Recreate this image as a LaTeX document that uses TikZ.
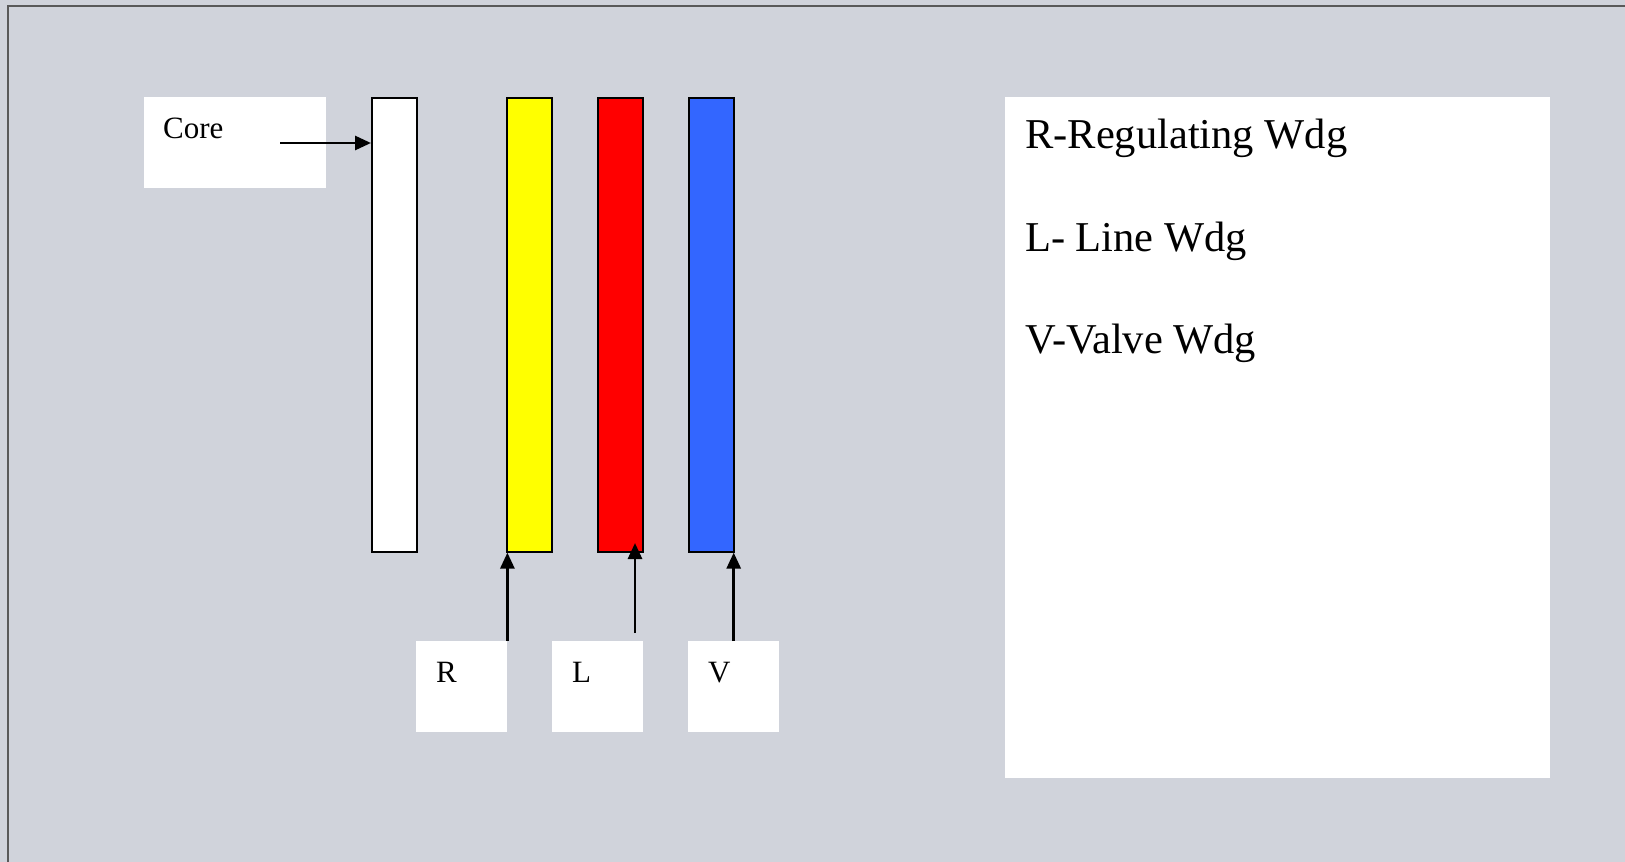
\documentclass[tikz,border=0pt]{standalone}
\usepackage{fontspec}
\setmainfont{Liberation Serif}
\usepackage{xcolor}
\usetikzlibrary{arrows.meta,calc,positioning}
\definecolor{slidegray}{RGB}{208,211,219}
\definecolor{wdgyellow}{RGB}{255,255,0}
\definecolor{wdgred}{RGB}{255,0,0}
\definecolor{wdgblue}{RGB}{51,102,255}

\begin{document}
\begin{tikzpicture}[x=1pt,y=-1pt,>={Triangle[length=16pt,width=14pt]},
    limb/.style={draw,line width=1.6pt,anchor=north west,inner sep=0pt,minimum width=45pt,minimum height=454pt},
    tagbox/.style={fill=white,anchor=north west,inner sep=0pt,minimum width=91pt,minimum height=91pt},
    tagtext/.style={anchor=base west,inner sep=0pt,font=\fontsize{31}{37}\selectfont},
    legtext/.style={anchor=base west,inner sep=0pt,font=\fontsize{42.5}{50}\selectfont},
    feed/.style={->,line width=2.8pt}]
  \useasboundingbox (0,0) rectangle (1625,862);
  \fill[slidegray] (0,0) rectangle (1625,862);
  \draw[black!65,line width=1.2pt] (8,862) -- (8,6) -- (1625,6);
  % core, winding limbs
  \foreach \nm/\x/\col in {corebar/371/white,rbar/506/wdgyellow,lbar/597/wdgred,vbar/688/wdgblue}
    {\node[limb,fill=\col] (\nm) at (\x,97) {};}
  % label boxes
  \node[tagbox,minimum width=182pt] (corebox) at (144,97) {};
  \node[tagtext] (coretxt) at ($(corebox.north west)+(19,41)$) {Core};
  \foreach \nm/\x/\lab in {rbox/416/R,lbox/552/L,vbox/688/V}
    {\node[tagbox] (\nm) at (\x,641) {};
     \node[tagtext] (\nm txt) at ($(\nm.north west)+(20,41)$) {\lab};}
  % arrows
  \coordinate (coretail) at (280,143);
  \coordinate (ltail) at (635,633);
  \coordinate (lhead) at (635,543);
  \draw[feed] (coretail) -- (coretail -| corebar.west);
  \draw[feed] (rbox.north east) -- (rbox.north east |- rbar.south);
  \draw[feed] (ltail) -- (lhead);
  \draw[feed] (vbox.north) -- (vbox.north |- vbar.south);
  % legend
  \node[fill=white,anchor=north west,inner sep=0pt,minimum width=545pt,minimum height=681pt] (legend) at (1005,97) {};
  \node[legtext] (legr) at (1025,148) {R-Regulating Wdg};
  \node[legtext] (legl) at (1025,251) {L- Line Wdg};
  \node[legtext] (legv) at (1025,353) {V-Valve Wdg};
\end{tikzpicture}
\end{document}
